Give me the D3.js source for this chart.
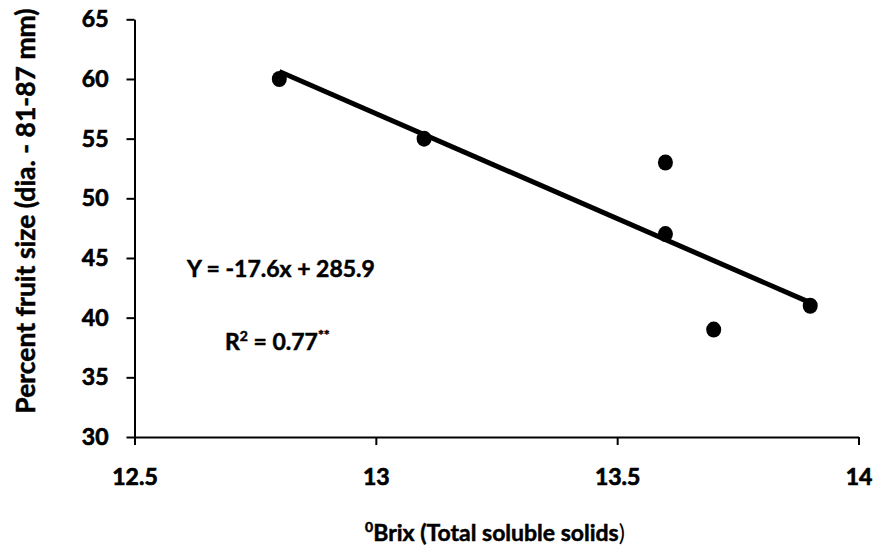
<!DOCTYPE html>
<html><head><meta charset="utf-8">
<script src="https://cdn.jsdelivr.net/npm/d3@7"></script>
<style>body{margin:0;background:#fff}svg{display:block}text{font-family:Lato,"Open Sans",sans-serif;font-weight:700;fill:#000;stroke:#000;stroke-width:0.5px}</style>
</head><body>
<svg id="c" width="876" height="555"></svg>
<script>
const brix = [12.8, 13.1, 13.6, 13.6, 13.7, 13.9];
const fruitSize = [60, 55, 53, 47, 39, 41];
const xTicks = [12.5, 13, 13.5, 14];
const yTicks = [30, 35, 40, 45, 50, 55, 60, 65];
const slope = -17.6, intercept = 285.9;
const fitRange = [12.8, 13.9];

const svg = d3.select("#c");
const x = d3.scaleLinear().domain([12.5, 14]).range([134.5, 858.5]);
const y = d3.scaleLinear().domain([30, 65]).range([437, 19.3]);

const fs = 23;
const xa = svg.append("g").attr("transform", `translate(0,${y(30)})`)
  .call(d3.axisBottom(x).tickValues(xTicks).tickFormat(d => d3.format("")(d)).tickSize(8).tickSizeOuter(0).tickPadding(24));
const ya = svg.append("g").attr("transform", `translate(${x(12.5)},0)`)
  .call(d3.axisLeft(y).tickValues(yTicks).tickSize(8).tickSizeOuter(0).tickPadding(18));
[xa, ya].forEach(a => {
  a.attr("font-family", null).attr("font-size", null).attr("fill", null);
  a.select(".domain").attr("stroke", "#000").attr("stroke-width", 2);
  a.selectAll(".tick line").attr("stroke", "#000").attr("stroke-width", 2);
  a.selectAll(".tick text").attr("fill", null)
    .style("font-family", "Lato, sans-serif").style("font-weight", "700")
    .style("font-size", fs + "px").style("fill", "#000").style("stroke", "#000").style("stroke-width", "0.7px");
});

// fit line
svg.append("line")
  .attr("x1", x(fitRange[0])).attr("y1", y(slope * fitRange[0] + intercept))
  .attr("x2", x(fitRange[1])).attr("y2", y(slope * fitRange[1] + intercept))
  .attr("stroke", "#000").attr("stroke-width", 5);

svg.append("g").selectAll("ellipse").data(brix.map((b, i) => [b, fruitSize[i]]))
  .join("ellipse").attr("cx", d => x(d[0])).attr("cy", d => y(d[1]))
  .attr("rx", 7.5).attr("ry", 8).attr("fill", "#000");

// equation
svg.append("text").attr("x", 187).attr("y", 277).attr("font-size", fs).text("Y = -17.6x + 285.9");
const r2 = svg.append("text").attr("x", 225).attr("y", 350).attr("font-size", fs);
r2.append("tspan").text("R");
r2.append("tspan").attr("font-size", 14).attr("dy", -9).text("2");
r2.append("tspan").attr("dy", 9).text(" = 0.77");
r2.append("tspan").attr("font-size", 14).attr("dy", -10).text("**");

// axis titles
const xt = svg.append("text").attr("x", 495).attr("y", 541).attr("text-anchor", "middle").attr("font-size", fs);
xt.append("tspan").attr("font-size", 14).attr("dy", -9).text("0");
xt.append("tspan").attr("dy", 9).text("Brix (Total soluble solids");
xt.append("tspan").style("font-weight", 400).style("stroke-width", "0px").text(")");

svg.append("text").attr("transform", "translate(35,211) rotate(-90)").attr("text-anchor", "middle")
  .attr("font-size", 26.5).text("Percent fruit size (dia. - 81-87 mm)");
</script>
</body></html>
